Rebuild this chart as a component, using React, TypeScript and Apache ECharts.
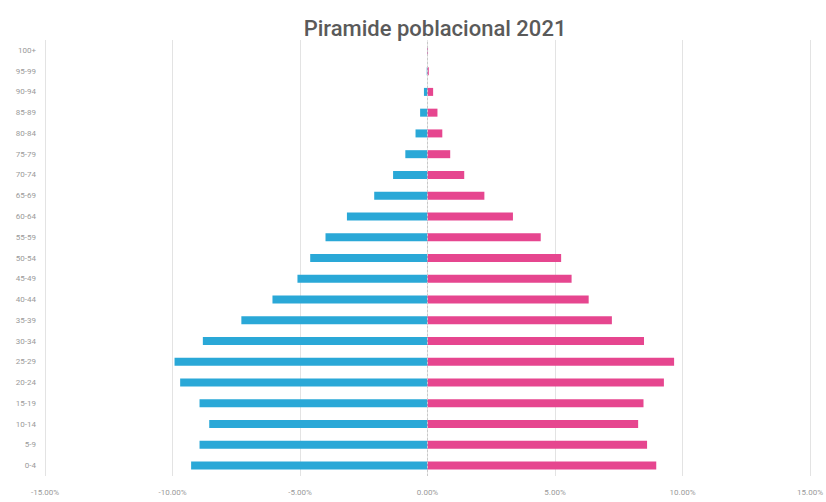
import React, { useEffect, useRef } from "react";
import * as echarts from "echarts";

const ageGroups = [
  "0-4", "5-9", "10-14", "15-19", "20-24", "25-29", "30-34", "35-39", "40-44", "45-49",
  "50-54", "55-59", "60-64", "65-69", "70-74", "75-79", "80-84", "85-89", "90-94", "95-99", "100+",
];

// Hombres (negative, left side) in %
const maleValues = [
  -9.27, -8.94, -8.56, -8.94, -9.7, -9.92, -8.81, -7.3, -6.08, -5.1,
  -4.6, -4.0, -3.16, -2.09, -1.35, -0.87, -0.47, -0.29, -0.14, -0.03, -0.01,
];

// Mujeres (positive, right side) in %
const femaleValues = [
  8.97, 8.61, 8.26, 8.47, 9.27, 9.67, 8.49, 7.23, 6.32, 5.65,
  5.24, 4.44, 3.35, 2.23, 1.44, 0.89, 0.58, 0.39, 0.22, 0.05, 0.02,
];

const xTicks = [-15, -10, -5, 0, 5, 10, 15];

export default function App() {
  const ref = useRef<HTMLDivElement>(null);

  useEffect(() => {
    if (!ref.current) return;
    const chart = echarts.init(ref.current, undefined, { renderer: "svg" });
    chart.setOption({
      animation: false,
      backgroundColor: "#ffffff",
      title: {
        text: "Piramide poblacional 2021",
        left: 430,
        textAlign: "center",
        top: 12,
        textStyle: {
          fontFamily: "Roboto, sans-serif",
          fontSize: 22,
          fontWeight: 500,
          color: "#5a5a5a",
        },
      },
      grid: { left: 45, right: 8, top: 40, bottom: 26 },
      xAxis: {
        type: "value",
        min: xTicks[0],
        max: xTicks[xTicks.length - 1],
        interval: 5,
        axisLine: { show: false },
        axisTick: { show: false },
        axisLabel: {
          fontSize: 8,
          color: "#9a9a9a",
          fontFamily: "Roboto, sans-serif",
          margin: 12,
          formatter: (v: number) => v.toFixed(2) + "%",
        },
        splitLine: { show: true, lineStyle: { color: "#e3e3e3", width: 1 } },
      },
      yAxis: {
        type: "category",
        data: ageGroups,
        axisLine: { show: false, onZero: false },
        axisTick: { show: false },
        axisLabel: {
          fontSize: 8,
          color: "#9a9a9a",
          fontFamily: "Roboto, sans-serif",
          margin: 9,
        },
      },
      series: [
        {
          name: "Hombres",
          type: "bar",
          stack: "total",
          data: maleValues,
          barWidth: 8,
          itemStyle: { color: "#2aa8d7" },
          markLine: {
            silent: true,
            symbol: "none",
            label: { show: false },
            lineStyle: { color: "#c8c8c8", type: [2, 2], width: 1 },
            data: [{ xAxis: 0 }],
          },
        },
        {
          name: "Mujeres",
          type: "bar",
          stack: "total",
          data: femaleValues,
          barWidth: 8,
          itemStyle: { color: "#e6468f" },
        },
      ],
    });
    return () => chart.dispose();
  }, []);

  return (
    <div
      ref={ref}
      style={{ position: "absolute", left: 0, top: 0, width: 826, height: 502 }}
    />
  );
}
